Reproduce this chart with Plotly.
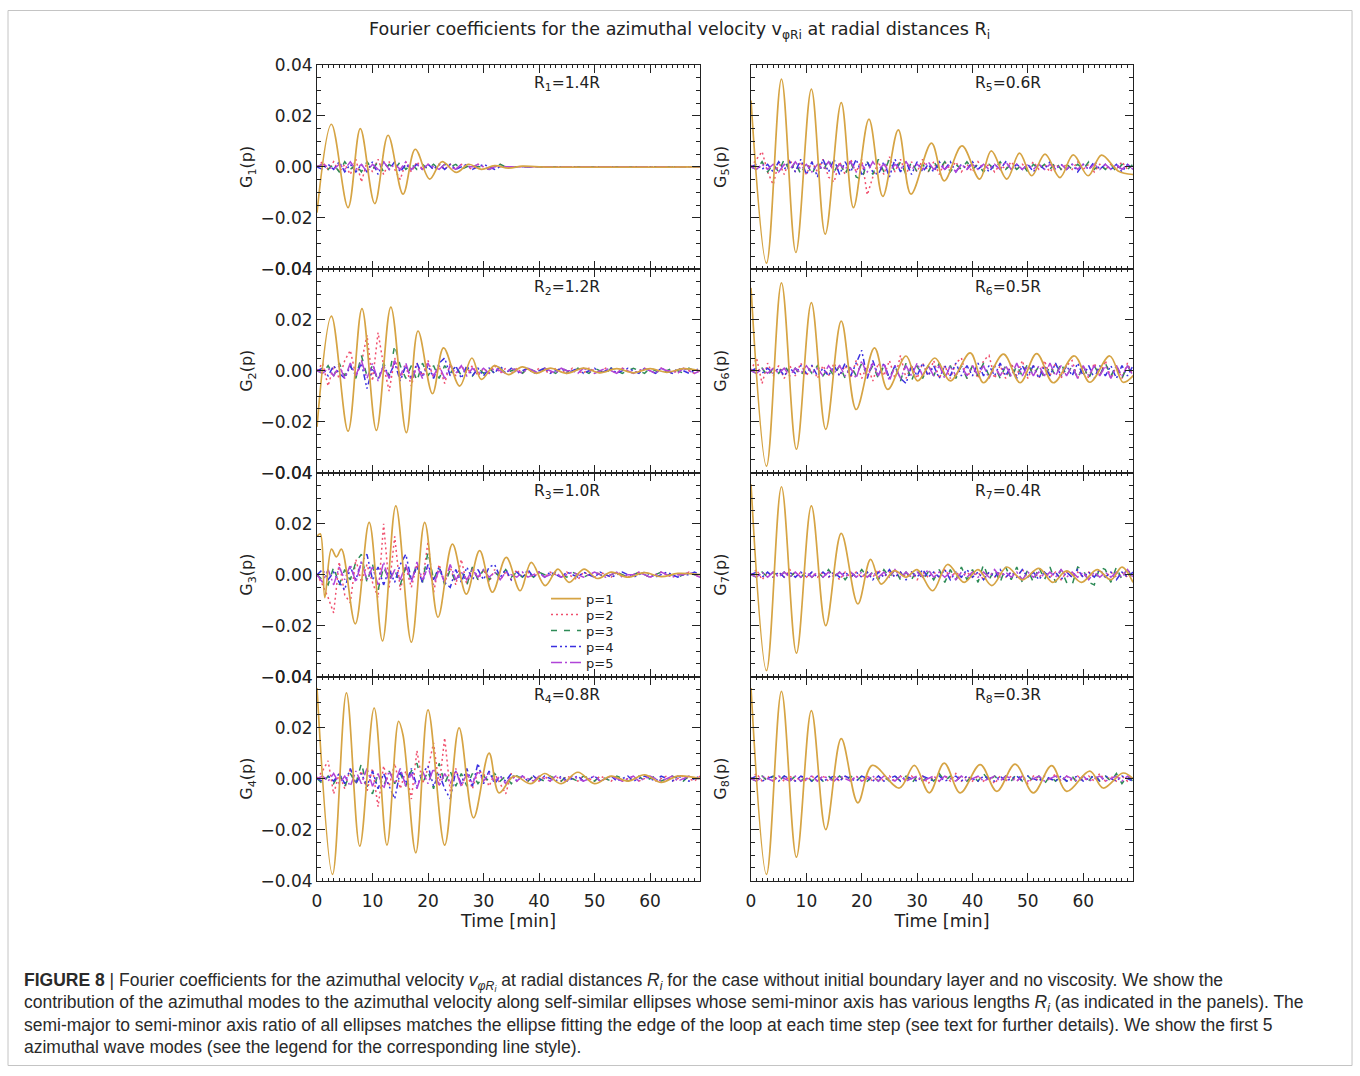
import plotly.graph_objects as go

# Figure fills the 1360x1076 page (body margin removed).  The photographed
# picture was found to map page pixels as  pic = OFF + S * page , so positions
# below are given in reference-picture pixels and converted back.
W, H = 1360, 1076
S_X, OFF_X = 0.9963, 5.0
S_Y, OFF_Y = 0.9818, 9.1


def px(x):
    return ((x - OFF_X) / S_X) / W


def py(y):
    return 1 - ((y - OFF_Y) / S_Y) / H


# ---------------- data (values in units of 1e-3) ----------------
# time grid (minutes) on which the p=2..5 curves were read
TIME_GRID = list(range(70))

# p = 1 curves: times (min) and values (1e-3) of the readings (extrema)
p1_t_R1 = [0, 2.6, 5.6, 7.8, 10.4, 12.8, 15.5, 17.7, 20.3, 22.5, 25.1, 27.3, 29.6, 32, 34.5, 37, 40, 69]
p1_v_R1 = [-18, 16.7, -16, 15, -14.4, 12.4, -10.7, 6.9, -4.8, 2.0, -2.2, 1.0, -1.0, 0.5, -0.5, 0.3, 0, 0]

p1_t_R2 = [0, 2.6, 5.6, 8.1, 10.7, 13.3, 16.1, 18.2, 20.8, 22.8, 25.7, 27.9, 29.6, 32, 34.5, 37, 39.5, 42, 45, 48, 51, 54, 57, 60, 63, 66, 69]
p1_v_R2 = [-22, 21.4, -23.7, 24.4, -23.4, 25, -24.3, 15.6, -9, 9, -6, 5, -3.4, 2, -1.5, 1.5, -1, 1, -1, 1, -0.8, 0.8, -0.8, 0.8, -0.6, 0.8, 0]

p1_t_R3 = [0, 0.6, 1.4, 2.6, 3.5, 4.4, 6.9, 9.4, 11.8, 14.2, 17.0, 19.4, 21.8, 24.4, 26.9, 29.3, 31.6, 34.1, 36.6, 38.6, 41.1, 43.4, 45.4, 48.1, 50.5, 53, 56, 59, 62, 65, 69]
p1_v_R3 = [15, 16, -9, 10, 7, 10, -19.3, 20.5, -26, 27, -26.5, 20.5, -16.7, 12, -7.6, 9.4, -6.9, 6.8, -6.3, 4.8, -4.3, 2.2, -3.0, 2.2, -1.5, 1, -1, 0.8, -0.8, 0.5, 0]

p1_t_R4 = [0, 2.8, 5.3, 7.7, 10.3, 12.6, 14.7, 15.5, 17.8, 20.0, 23.0, 25.6, 28.2, 31.0, 32.8, 35.5, 38.5, 41, 44, 47, 50, 53, 56, 59, 62, 65, 69]
p1_v_R4 = [35.5, -37.6, 33.6, -26.5, 27.7, -26.1, 22.5, 17, -29.1, 27, -26.1, 19.9, -15.4, 10, -5.6, 1, -2, 2, -2, 2.5, -2, 1, -1, 1.5, -1.5, 1, 0]

p1_t_R5 = [0, 2.8, 5.5, 8.1, 10.9, 13.4, 16.3, 18.5, 21.3, 23.8, 26.6, 28.9, 32.6, 34.9, 38.1, 41.3, 43.4, 46.2, 48.5, 50.7, 53.1, 55.8, 58.2, 60.9, 63.3, 66.3, 69]
p1_v_R5 = [26, -37.8, 34.4, -33.6, 30.5, -26.4, 25.2, -16, 18.7, -11.6, 14.5, -10.7, 9.3, -5.5, 8.2, -4.8, 6.3, -4.8, 5.4, -3.5, 5, -4.2, 4.7, -3.5, 4.6, -1.6, -3]

p1_t_R6 = [0, 2.8, 5.5, 8.2, 10.9, 13.5, 16.3, 19.0, 22.3, 24.7, 28.0, 30.1, 33.2, 36.0, 39.6, 42.0, 45.6, 48.6, 51.6, 54.6, 58.4, 61.2, 64.8, 67.2, 69]
p1_v_R6 = [32.5, -37.4, 34.5, -30.8, 26.7, -23, 19.5, -15.2, 9, -7.3, 5.8, -4, 5, -4, 7, -4.7, 6.5, -4.7, 6.7, -4.7, 5.8, -4.5, 5.8, -4.5, -2]

p1_t_R7 = [0, 2.8, 5.5, 8.2, 10.9, 13.5, 16.3, 19.3, 21.6, 23.5, 25.9, 28, 30, 32.8, 35.5, 38.5, 41, 43.5, 46.2, 49, 52, 54.5, 57, 59.7, 62.5, 65, 67, 69]
p1_v_R7 = [35.5, -37.6, 34.5, -30.8, 27, -20, 16.2, -11.5, 6, -3.7, 1.6, -1, 2, -6.3, 4, -3, 2, -4.3, 3, -2, 2.5, -3, 1.5, -3, 2, -2, 3, -3]

p1_t_R8 = [0, 2.8, 5.5, 8.2, 10.9, 13.5, 16.3, 19.3, 21.9, 26.8, 29.5, 32.2, 34.9, 37.8, 41.4, 44.4, 47.7, 51.0, 54.3, 57.0, 61.2, 63.6, 67.2, 69]
p1_v_R8 = [35.5, -37.6, 34.2, -30.8, 26.7, -20, 15.7, -9.5, 5.2, -3.7, 5.2, -5.6, 6.1, -5.6, 5.5, -5.0, 5.7, -5.6, 5.1, -5.0, 2.9, -3.7, 2.2, 0]

# p = 2..5 curves read on TIME_GRID (1e-3)
p2_R1 = [0, 2, -1, 2, -2, 1, -3, 3, -6, 2,  -2, 3, -3, 2, -1, -5, 2, -2, 2, -1,  1, -1, 1, -1, 1, -1, 1, 0, -1, 1,
         0, -1, 0, 1, 0, 0, 0, 0, 0, 0,  0, 0, 0, 0, 0, 0, 0, 0, 0, 0,  0, 0, 0, 0, 0, 0, 0, 0, 0, 0,  0, 0, 0, 0, 0, 0, 0, 0, 0, 0]
p3_R1 = [0, 1, -1, 1, -2, 2, -1, 1, -2, 2,  -1, 2, -2, 1, -1, 2, -1, 1, -1, 1,  -1, 1, -1, 1, 0, 1, -1, 0, 1, 0,
         0, -1, 0, 1, 0, 0, 0, 0, 0, 0,  0, 0, 0, 0, 0, 0, 0, 0, 0, 0,  0, 0, 0, 0, 0, 0, 0, 0, 0, 0,  0, 0, 0, 0, 0, 0, 0, 0, 0, 0]
p4_R1 = [0, -1, 1, -1, 2, -2, 1, -2, 1, -2,  2, -3, 2, -1, 2, -2, 1, -1, 1, -1,  1, -1, 1, -1, 1, -1, 0, 1, -1, 0,
         1, 0, -1, 0, 0, 0, 0, 0, 0, 0,  0, 0, 0, 0, 0, 0, 0, 0, 0, 0,  0, 0, 0, 0, 0, 0, 0, 0, 0, 0,  0, 0, 0, 0, 0, 0, 0, 0, 0, 0]
p5_R1 = [0, 1, 0, -1, 1, -1, 2, -1, 1, -2,  1, -1, 2, -1, 1, -1, 2, -1, 1, -1,  1, 0, -1, 1, 0, -1, 1, 0, 0, 1,
         0, -1, 0, 0, 0, 0, 0, 0, 0, 0,  0, 0, 0, 0, 0, 0, 0, 0, 0, 0,  0, 0, 0, 0, 0, 0, 0, 0, 0, 0,  0, 0, 0, 0, 0, 0, 0, 0, 0, 0]

p2_R2 = [0, 3, -6, 2, -3, 4, 8, -2, 3, 14,  -4, 15, 2, -8, 5, -3, 2, -6, 3, -2,  4, -3, 2, -5, 3, -2, 2, -1, 2, -2,
         1, -1, 2, -1, 1, -1, 1, -1, 1, -1,  1, 0, -1, 1, 0, -1, 1, 0, -1, 1,  0, -1, 1, 0, -1, 1, 0, -1, 0, 1,  0, -1, 1, 0, -1, 0, 1, 0, -1, 0]
p3_R2 = [0, -1, 2, -2, 3, -2, 2, -3, 6, -2,  2, -4, 3, -2, 10, 2, -3, 2, -4, 3,  -2, 2, -3, 2, -1, 2, -2, 1, -2, 1,
         -1, 1, -1, 1, -1, 0, 1, -1, 1, 0,  -1, 1, 0, -1, 1, 0, -1, 1, 0, -1,  1, 0, -1, 1, 0, -1, 0, 1, 0, -1,  1, 0, -1, 0, 1, 0, -1, 1, 0, 0]
p4_R2 = [0, 1, -2, 2, -1, -3, 2, -2, 3, -7,  1, -3, 2, -2, 3, -4, 2, -3, 3, -2,  2, -3, 3, 5, -2, 2, -3, 2, -2, 1,
         -2, 1, -1, 2, -1, 1, -1, 0, 1, -1,  0, 1, -1, 0, 1, -1, 0, 1, -1, 0,  1, -1, 0, 1, -1, 0, 1, 0, -1, 1,  0, -1, 1, 0, -1, 1, 0, -1, 0, 1]
p5_R2 = [0, -1, 1, -2, 2, -3, 3, -2, 4, -3,  3, -4, 2, -3, 4, -2, 3, -4, 2, -3,  3, -2, 2, -3, 2, -1, 2, -2, 1, -1,
         1, -1, 1, 0, -1, 1, 0, -1, 1, 0,  -1, 1, 0, -1, 1, 0, 0, -1, 1, 0,  -1, 0, 1, 0, -1, 1, 0, -1, 0, 1,  0, -1, 1, 0, 0, -1, 1, 0, -1, 0]

p2_R3 = [0, -4, -9, -15, 5, -8, -11, 6, -3, 4,  -3, -9, 20, -5, 15, -6, 3, -5, 4, -3,  13, -7, 4, -3, 3, -4, 6, -4, 3, -2,
         2, -3, 2, -2, 1, -2, 2, -1, 1, -1,  1, -1, 1, 0, -1, 1, -1, -2, 1, 0,  -1, 1, 0, -1, 1, 0, -1, 0, 1, 0,  -1, 0, 1, 0, -1, 0, 0, 1, 0, -1]
p3_R3 = [0, -2, -4, 3, -4, 2, -2, 5, 8, -3,  4, -6, 3, -2, 2, -4, 3, -2, 4, -3,  9, -2, 3, -4, 2, -3, 2, -4, 3, -2,
         2, -2, 1, -1, 2, -1, 1, -1, 1, -1,  1, 0, -1, 1, 0, -1, 1, 0, -1, 0,  1, 0, -1, 0, 1, 0, -1, 0, 1, 0,  -1, 0, 1, 0, 0, -1, 0, 1, 0, 0]
p4_R3 = [0, 2, -2, 1, -3, -6, 3, -2, 5, 8,  -2, 3, -4, 2, -3, 4, 8, -2, 3, -3,  4, -2, 3, -3, -5, 2, -3, 3, -2, 2,
         -2, 3, 4, -1, 2, -2, 1, -1, 2, -1,  1, -1, 1, 0, -1, 1, 0, -1, 1, 0,  -1, 1, 0, -1, 0, 1, 0, -1, 0, 1,  0, -1, 0, 1, 0, -1, 0, 0, 1, 0]
p5_R3 = [0, -3, 2, -4, 3, -2, 4, -3, 5, -2,  3, -4, 5, -3, 2, -2, 4, -3, 5, -2,  3, -4, 2, -3, 4, -2, 1, -2, 2, -1,
         2, -1, 1, -2, 1, 0, -1, 1, -1, 0,  1, -1, 0, 1, -1, 0, 1, 0, -1, 0,  1, 0, -1, 0, 1, -1, 0, 0, 1, 0,  -1, 0, 1, 0, -1, 0, 0, 1, 0, -1]

p2_R4 = [0, 3, 7, -6, 2, -4, 4, -2, 3, -5,  4, -11, 5, -3, 6, -4, 3, -8, 11, -2,  4, 14, -3, 16, -5, 4, -3, 2, -4, 3,
         2, -3, 2, -2, -6, 2, -1, 1, -1, 1,  -1, 1, -1, 1, -1, 1, 0, -1, 1, 0,  -1, 1, 0, -1, 1, -1, 0, 1, -1, 0,  1, -1, 0, 1, -1, 0, 1, 0, -1, 1]
p3_R4 = [0, -2, 1, -2, 2, -3, 2, -2, 6, -3,  -6, 2, -3, 3, -2, 2, -3, 3, 6, -2,  3, -4, 6, -2, 3, -3, 2, -3, 2, -2,
         1, -1, 2, -1, 1, -2, 1, 0, -1, 1,  0, -1, 1, 0, -1, 1, 0, -1, 1, 0,  -1, 1, 0, -1, 1, 0, -1, 0, 1, -1,  0, 1, -1, 0, 1, 0, -1, 1, 0, 0]
p4_R4 = [0, -1, 1, -1, 2, -2, 4, -2, 2, -3,  3, -4, 2, -3, -8, 3, -2, 4, -3, 2,  5, -3, 2, -4, -8, 3, -2, 4, -3, 6,
         -2, 3, -2, 1, -1, 2, -1, 1, -1, 1,  -1, 1, 0, -1, 1, -1, 0, 1, -1, 0,  1, -1, 0, 1, -1, 0, 1, -1, 0, 1,  0, -1, 1, 0, -1, 1, 0, -1, 0, 1]
p5_R4 = [0, 1, -1, 2, -2, 1, -3, 3, -2, 4,  -3, 2, -4, 3, -2, 4, -3, 2, -4, 3,  -2, 4, -3, 2, -2, 3, -3, 2, -2, 3,
         -1, 2, -1, 1, -2, 1, -1, 1, 0, -1,  1, 0, -1, 1, 0, -1, 1, 0, -1, 0,  1, -1, 0, 1, 0, -1, 0, 1, -1, 0,  1, 0, -1, 0, 1, -1, 0, 1, 0, 0]

p2_R5 = [0, 3, 6, -2, -7, 2, -3, 3, -2, 2,  -3, 2, -2, 3, -4, -6, 2, -3, 3, -2,  3, -11, -4, 2, -3, 4, -2, 3, -3, 2,
         -2, 3, -2, 2, -3, 2, -1, 2, -2, 1,  -2, 2, -1, 1, -2, 1, -1, 2, -1, 1,  -1, 2, -1, 1, -2, 1, -1, 1, -1, 2,  -1, 1, -2, 1, -1, 1, -1, 2, -1, 1]
p3_R5 = [0, -1, 2, -2, 1, -2, 3, -2, 2, -3,  2, -3, 2, -2, 3, -2, 2, -3, 2, -4,  -5, 2, -3, 3, -2, 3, -2, 2, -3, 2,
         -2, 1, -2, 2, -1, 2, -2, 1, -1, 2,  -1, 1, -2, 1, -1, 2, -1, 1, -1, 1,  -2, 1, -1, 1, -1, 2, -1, 1, -1, 1,  -1, 2, -1, 1, -1, 1, -2, 1, -1, 1]
p4_R5 = [0, 1, -1, 1, -2, 2, -1, 2, -2, 3,  -3, 2, -4, 3, -2, 3, -3, 2, -2, 3,  -3, 2, -2, -3, 2, -4, 3, -2, 2, -3,
         2, -2, 1, -2, 2, -1, 2, -2, 1, -1,  2, -1, 1, -2, 1, -1, 2, -1, 1, -1,  1, -2, 1, -1, 2, -1, 1, -1, 1, -2,  1, -1, 2, -1, 1, -1, 1, -2, 1, -1]
p5_R5 = [0, -1, 1, -1, 1, -2, 1, -1, 2, -1,  1, -2, 1, -1, 2, -2, 1, -1, 2, -2,  1, -2, 2, -1, 1, -2, 1, -1, 2, -1,
         1, -1, 2, -1, 1, -1, 1, -2, 1, -1,  1, -1, 1, -1, 1, -1, 2, -1, 1, -1,  1, -1, 1, -1, 1, -1, 1, -1, 1, -1,  1, -1, 1, -1, 1, -1, 1, -1, 1, -1]

p2_R6 = [0, 5, -5, 3, -2, 2, -3, 2, -2, 3,  -2, 2, -3, 2, -2, 3, -2, 2, -3, 4,  -3, 2, -4, 3, -2, 4, -3, 6, -3, 2,
         -3, 3, -2, 4, -3, 2, -3, 3, 5, -3,  2, -3, 4, 6, -3, 2, -3, 3, -2, 4,  -3, 2, -3, 4, -2, 3, -3, 2, 4, -3,  2, -3, 3, -2, 4, -3, 2, -3, 3, -2]
p3_R6 = [0, -1, 1, -2, 1, -1, 2, -1, 1, -2,  2, -1, 2, -2, 1, -2, 2, -3, 2, -2,  3, -2, 2, -3, 2, -3, 2, -4, 3, -4,
         2, -3, 2, -2, 3, -2, 2, -3, 2, -3,  2, -2, 3, -2, 2, -3, 2, -3, 2, -2,  3, -2, 2, -3, 2, -2, 3, -2, 2, -3,  2, -3, 2, -2, 3, -2, 2, -3, 2, -2]
p4_R6 = [0, 1, -1, 1, -1, 1, -2, 1, -1, 2,  -1, 2, -2, 1, -2, 2, -2, 3, -2, 3,  8, -3, 4, -2, 3, -3, 2, -3, -5, 2,
         -2, 3, -2, 2, -3, 2, -2, 3, -2, 2,  -2, 3, -2, 2, -2, 3, -2, 2, -3, 2,  -2, 2, -3, 2, -2, 3, -2, 2, -2, 3,  -2, 2, -3, 2, -2, 2, -3, 2, -2, 2]
p5_R6 = [0, -1, 1, -1, 1, -1, 1, -2, 1, -1,  2, -1, 1, -2, 2, -1, 2, -2, 1, -3,  4, -2, 3, -2, 3, -4, 2, -3, 2, -2,
         3, -2, 2, -2, 2, -3, 2, -2, 2, -2,  2, -2, 2, -3, 2, -2, 2, -2, 3, -2,  2, -2, 2, -2, 3, -2, 2, -2, 2, -3,  2, -2, 2, -2, 2, -3, 2, -2, 2, -2]

p2_R7 = [0, 2, -2, 1, -1, 1, -1, 2, -1, 1,  -1, 1, -1, 1, -1, 1, -2, 1, -1, 1,  -1, 1, -1, 2, -1, 1, -1, 1, -1, 1,
         -2, 1, -1, 1, -1, 2, -1, 1, -1, 1,  -1, 1, -2, 1, -1, 1, -1, 1, -1, 2,  -1, 1, -1, 1, -1, 1, -2, 1, -1, 1,  -1, 1, -1, 2, -1, 1, -1, 1, -1, 1]
p3_R7 = [0, -1, 1, -1, 1, -1, 1, -1, 1, -1,  1, -1, 1, -1, 2, -1, 1, -2, 1, -1,  2, -1, 1, -2, 2, -1, 2, -2, 1, -2,
         2, -2, 1, -2, 2, -3, 2, -2, 3, -2,  2, -3, 4, -2, 2, -3, 3, -2, 3, -3,  2, -3, 3, -2, 3, -3, 2, -3, -4, 3,  2, -3, -4, 3, 2, -3, 3, -2, 3, -3]
p4_R7 = [0, 1, -1, 1, -1, 1, -1, 1, -1, 1,  -1, 1, -1, 1, -1, 1, -1, 1, -1, 1,  -1, 1, -2, 1, -1, 2, -1, 1, -2, 1,
         -1, 2, -1, 1, -1, 2, -2, 1, -1, 2,  -1, 1, -2, 1, -1, 2, -1, 1, -1, 2,  -1, 1, -2, 1, -1, 1, -2, 1, -1, 2,  -1, 1, -1, 2, -1, 1, -2, 1, -1, 1]
p5_R7 = [0, -1, 1, -1, 1, -1, 1, -1, 1, -1,  1, -1, 1, -1, 1, -1, 1, -1, 1, -1,  1, -1, 1, -1, 1, -1, 2, -1, 1, -1,
         1, -1, 2, -1, 1, -1, 1, -2, 1, -1,  1, -1, 1, -1, 2, -1, 1, -1, 1, -2,  1, -1, 1, -1, 1, -1, 2, -1, 1, -1,  1, -2, 1, -1, 1, -1, 1, -1, 2, -1]

p2_R8 = [0, 2, -1, 1, -1, 1, -1, 1, -1, 1,  -1, 1, -1, 1, -1, 1, -1, 1, -1, 1,  -1, 1, -1, 1, -1, 1, -1, 1, -1, 1,
         -1, 1, -2, 1, -1, 1, -1, 2, -1, 1,  -1, 1, -1, 1, -2, 1, -1, 1, -1, 1,  -2, 1, -1, 1, -1, 2, -1, 1, -1, 1,  -1, 1, -1, 2, -1, 1, -1, 1, -1, 1]
p3_R8 = [0, -1, 1, -1, 1, -1, 1, -1, 1, -1,  1, -1, 1, -1, 1, -1, 1, -1, 1, -1,  1, -1, 1, -1, 1, -1, 1, -1, 1, -2,
         1, -1, 1, -1, 2, -1, 1, -1, 1, -1,  1, -1, 2, -1, 1, -1, 1, -1, 2, -1,  1, -1, 1, -2, 1, -1, 1, -1, 1, -2,  1, -1, 2, -1, 1, -1, 2, -2, 1, -1]
p4_R8 = [0, 1, -1, 0, 1, -1, 1, 0, -1, 1,  0, -1, 1, -1, 0, 1, -1, 1, 0, -1,  1, 0, -1, 1, -1, 0, 1, -1, 1, 0,
         -1, 1, 0, -1, 1, -1, 0, 1, -1, 1,  0, -1, 1, 0, -1, 1, -1, 0, 1, -1,  1, 0, -1, 1, 0, -1, 1, -1, 0, 1,  -1, 0, 1, -1, 1, 0, -1, 1, 0, -1]
p5_R8 = [0, -1, 1, 0, -1, 1, 0, -1, 1, -1,  0, 1, -1, 1, 0, -1, 1, 0, -1, 1,  -1, 0, 1, -1, 1, 0, -1, 1, -1, 0,
         1, -1, 0, 1, -1, 1, 0, -1, 1, -1,  0, 1, -1, 0, 1, -1, 1, 0, -1, 1,  -1, 0, 1, -1, 0, 1, -1, 1, 0, -1,  1, -1, 0, 1, -1, 0, 1, -1, 1, 0]

panel_labels = ["R<sub>1</sub>=1.4R", "R<sub>2</sub>=1.2R", "R<sub>3</sub>=1.0R", "R<sub>4</sub>=0.8R",
                "R<sub>5</sub>=0.6R", "R<sub>6</sub>=0.5R", "R<sub>7</sub>=0.4R", "R<sub>8</sub>=0.3R"]
ytitles = [f"G<sub>{i}</sub>(p)" for i in range(1, 9)]
x_ticks = [0, 10, 20, 30, 40, 50, 60]
y_ticks = [-0.04, -0.02, 0.0, 0.02, 0.04]
mode_names = ["p=1", "p=2", "p=3", "p=4", "p=5"]

p1_t = [p1_t_R1, p1_t_R2, p1_t_R3, p1_t_R4, p1_t_R5, p1_t_R6, p1_t_R7, p1_t_R8]
p1_v = [p1_v_R1, p1_v_R2, p1_v_R3, p1_v_R4, p1_v_R5, p1_v_R6, p1_v_R7, p1_v_R8]
p2 = [p2_R1, p2_R2, p2_R3, p2_R4, p2_R5, p2_R6, p2_R7, p2_R8]
p3 = [p3_R1, p3_R2, p3_R3, p3_R4, p3_R5, p3_R6, p3_R7, p3_R8]
p4 = [p4_R1, p4_R2, p4_R3, p4_R4, p4_R5, p4_R6, p4_R7, p4_R8]
p5 = [p5_R1, p5_R2, p5_R3, p5_R4, p5_R5, p5_R6, p5_R7, p5_R8]

# ---------------- styling ----------------
FONT = "DejaVu Sans"
INK = "#222"
COLORS = ["#D6A444", "#F0506E", "#2E8B57", "#3A2FE0", "#B044D8"]
DASHES = ["solid", "2px,3px", "6px,7px", "6px,3px,2px,3px,2px,3px", "11px,3px,2px,3px"]
LEGEND_IDS = ["legend", "legend2", "legend3", "legend4", "legend5"]
LEGEND_Y = [598, 614, 630, 646, 662]

col_x = [(px(317), px(700)), (px(751), px(1133))]
row_top = [64, 268, 472, 676]
row_h = 204

fig = go.Figure()
SCALE = 1e-3
for i in range(8):
    ax = "" if i == 0 else str(i + 1)
    xr, yr = "x" + ax, "y" + ax
    show = (i == 2)
    series = [(p1_t[i], p1_v[i])] + [(TIME_GRID[:len(s)], s) for s in (p2[i], p3[i], p4[i], p5[i])]
    for k in [1, 2, 3, 4, 0]:  # p=1 drawn last, on top
        tt, vv = series[k]
        fig.add_trace(go.Scatter(
            x=tt, y=[v * SCALE for v in vv], mode="lines", name=mode_names[k],
            line=dict(color=COLORS[k], width=1.7 if k == 0 else 1.5, dash=DASHES[k],
                      shape="spline" if k == 0 else "linear", smoothing=1.0),
            xaxis=xr, yaxis=yr, showlegend=show, legend=LEGEND_IDS[k], hoverinfo="skip"))

layout = dict(
    width=W, height=H, margin=dict(l=0, r=0, t=0, b=0),
    paper_bgcolor="white", plot_bgcolor="white",
    font=dict(family=FONT, size=16, color=INK),
    showlegend=True,
)
for k, lid in enumerate(LEGEND_IDS):
    layout[lid] = dict(x=px(546), y=py(LEGEND_Y[k]), xanchor="left", yanchor="middle",
                       bgcolor="rgba(0,0,0,0)", borderwidth=0,
                       font=dict(family=FONT, size=13, color=INK), itemwidth=30)

for i in range(8):
    c, r = divmod(i, 4)
    ax = "" if i == 0 else str(i + 1)
    bottom = (r == 3)
    layout["xaxis" + ax] = dict(
        domain=col_x[c], range=[0, 69], anchor="y" + ax,
        showline=True, linecolor=INK, linewidth=1, mirror="ticks",
        ticks="inside", ticklen=8, tickwidth=1, tickcolor=INK,
        tickvals=x_ticks, showticklabels=bottom, ticklabelstandoff=5,
        minor=dict(dtick=1, tick0=0, ticks="inside", ticklen=3, tickcolor=INK, showgrid=False),
        showgrid=False, zeroline=False,
        tickfont=dict(family=FONT, size=17, color=INK),
        title=dict(text="Time [min]" if bottom else "", font=dict(family=FONT, size=17.5, color=INK), standoff=4),
    )
    layout["yaxis" + ax] = dict(
        domain=(py(row_top[r] + row_h), py(row_top[r])), range=[-0.04, 0.04], anchor="x" + ax,
        showline=True, linecolor=INK, linewidth=1, mirror="ticks",
        ticks="inside", ticklen=8, tickwidth=1, tickcolor=INK,
        tickvals=y_ticks, tickformat=".2f", showticklabels=(c == 0),
        minor=dict(dtick=0.005, tick0=0, ticks="inside", ticklen=4, tickcolor=INK, showgrid=False),
        showgrid=False, zeroline=False,
        tickfont=dict(family=FONT, size=17, color=INK),
        title=dict(text=ytitles[i], font=dict(family=FONT, size=16, color=INK),
                   standoff=3 if c == 0 else 19),
    )

annotations = []
for i in range(8):
    c, r = divmod(i, 4)
    ax = "" if i == 0 else str(i + 1)
    annotations.append(dict(
        text=panel_labels[i], xref=f"x{ax} domain", yref=f"y{ax} domain",
        x=0.653 if c == 0 else 0.673, y=0.905, xanchor="center", yanchor="middle",
        showarrow=False, font=dict(family=FONT, size=15.5, color=INK)))

annotations.append(dict(
    text="Fourier coefficients for the azimuthal velocity v<sub>φRi</sub> at radial distances R<sub>i</sub>",
    xref="paper", yref="paper", x=px(679), y=py(30), xanchor="center", yanchor="middle",
    showarrow=False, font=dict(family=FONT, size=17.5, color=INK)))

caption_lines = [
    "<b>FIGURE 8</b> | Fourier coefficients for the azimuthal velocity <i>v<sub>φR<sub>i</sub></sub></i> at radial distances <i>R<sub>i</sub></i> for the case without initial boundary layer and no viscosity. We show the",
    "contribution of the azimuthal modes to the azimuthal velocity along self-similar ellipses whose semi-minor axis has various lengths <i>R<sub>i</sub></i> (as indicated in the panels). The",
    "semi-major to semi-minor axis ratio of all ellipses matches the ellipse fitting the edge of the loop at each time step (see text for further details). We show the first 5",
    "azimuthal wave modes (see the legend for the corresponding line style).",
]
caption_y = [981, 1003, 1025, 1047]
for txt, yy in zip(caption_lines, caption_y):
    annotations.append(dict(
        text=txt, xref="paper", yref="paper", x=px(22), y=py(yy),
        xanchor="left", yanchor="middle", showarrow=False, align="left",
        font=dict(family="Liberation Sans", size=17.5, color="#2a2a2a")))

layout["annotations"] = annotations

# thin frame round the whole figure
fx0, fx1 = max(px(8), 0.5 / W), min(px(1352), 1 - 0.5 / W)
fy0, fy1 = max(py(1068), 0.5 / H), min(py(8), 1 - 0.5 / H)
layout["shapes"] = [dict(type="rect", xref="paper", yref="paper",
                         x0=fx0, x1=fx1, y0=fy0, y1=fy1,
                         line=dict(color="#c4c4c4", width=1), fillcolor="rgba(0,0,0,0)", layer="below")]

fig.update_layout(**layout)
fig.write_html("out.html", config={"displayModeBar": False},
               post_script="document.body.style.margin='0';document.body.style.overflow='hidden';")
